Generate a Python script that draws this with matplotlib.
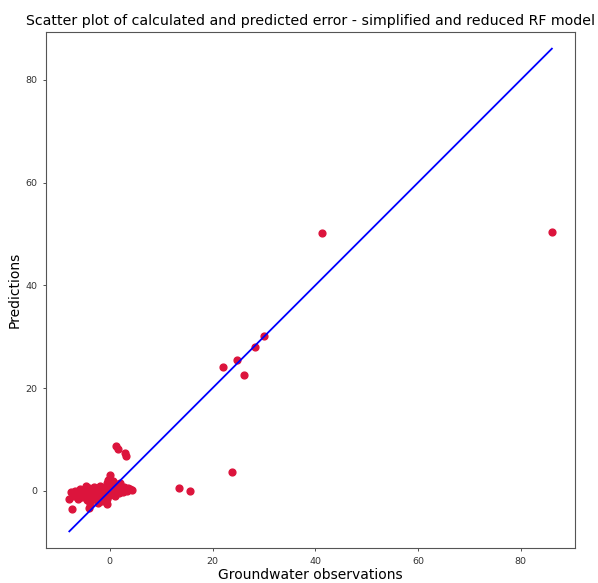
from matplotlib import pyplot as plt

obs = [-7.9, -7.3, -7.5, -7.0, -6.8, -6.5, -6.2, -6.0, -5.8, -5.5,
       -5.3, -5.0, -4.8, -4.6, -4.5, -4.2, -4.0, -4.0, -3.8, -3.6,
       -3.5, -3.2, -3.0, -2.8, -2.6, -2.4, -2.2, -2.0, -1.8, -1.6,
       -1.5, -1.3, -1.0, -0.8, -0.6, -0.5, -0.3, -0.2, 0.0, 0.0,
       0.2, 0.4, 0.6, 0.8, 1.0, 1.2, 1.4, 1.6, 1.8, 2.0,
       2.2, 2.5, 2.8, 3.0, 3.3, 3.6, 4.0, 4.4, -0.5, -2.3,
       1.2, 1.5, 3.0, 3.2,
       13.5, 15.6, 23.8, 22.0, 24.8, 26.1, 28.3, 30.0, 41.4, 86.1]
pred = [-1.6, -3.6, -0.3, -1.0, 0.0, -0.8, -1.5, -0.3, 0.4, -1.2,
        -0.5, 0.2, -1.0, 1.0, -1.8, -0.4, -3.4, 0.5, -2.6, -1.3,
        0.0, -0.8, 0.8, -1.6, -0.2, 0.4, -1.1, 1.0, -0.6, -2.0,
        0.2, -1.2, 0.7, -0.4, 1.5, -1.6, 2.1, 0.3, 3.1, -0.9,
        1.2, -0.2, 2.0, 0.6, -1.0, 1.4, 0.0, 0.9, -0.5, 1.6,
        0.3, -0.2, 0.8, 0.2, -0.1, 0.6, 0.3, 0.2, -2.6, -2.4,
        8.8, 8.2, 7.3, 6.8,
        0.5, -0.1, 3.7, 24.2, 25.4, 22.6, 28.0, 30.2, 50.2, 50.4]

# 1:1 reference line ends
line_ends = [-7.9, 86.1]

fig = plt.figure(figsize=(5.98, 5.83), dpi=100)
ax = fig.add_axes([0.0764, 0.0595, 0.8851, 0.8861])

ax.scatter(obs, pred, color='crimson', s=24, zorder=2)
ax.plot(line_ends, line_ends, color='blue', linewidth=1.3, zorder=3)

ax.set_xlim(-12.5, 90.6)
ax.set_ylim(-11.2, 89.4)
ax.set_xticks([0, 20, 40, 60, 80])
ax.set_yticks([0, 20, 40, 60, 80])
ax.tick_params(labelsize=6.8, length=2.5, width=0.6, colors='#333333')
for s in ax.spines.values():
    s.set_linewidth(0.8)
    s.set_color('#555555')

ax.set_title('Scatter plot of calculated and predicted error - simplified and reduced RF model',
             fontsize=10.2, pad=5)
ax.set_xlabel('Groundwater observations', fontsize=10, labelpad=2)
ax.set_ylabel('Predictions', fontsize=10, labelpad=3)

plt.savefig('out.png', dpi=100)
